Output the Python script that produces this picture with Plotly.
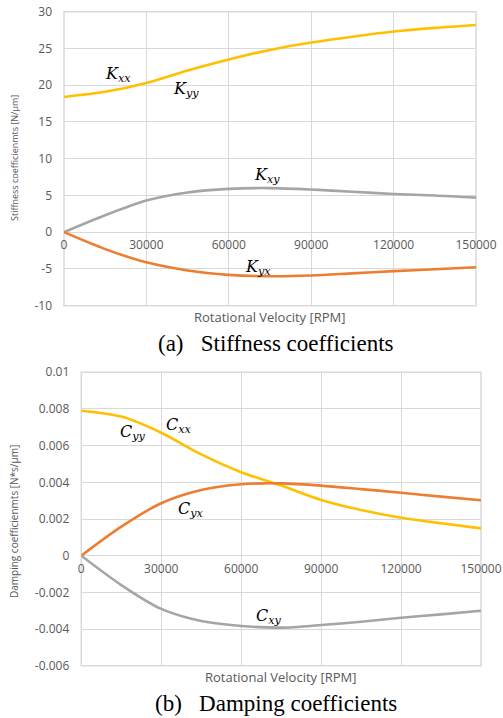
import plotly.graph_objects as go

rpm = [0, 15000, 30000, 45000, 60000, 75000, 90000, 105000, 120000, 135000, 150000]
k_xx = [18.4, 19.1, 20.3, 22.0, 23.5, 24.8, 25.8, 26.6, 27.3, 27.8, 28.2]
k_xy = [0, 2.3, 4.3, 5.4, 5.9, 6.0, 5.8, 5.5, 5.2, 5.0, 4.7]
k_yx = [0, -2.3, -4.1, -5.2, -5.8, -6.0, -5.9, -5.6, -5.3, -5.05, -4.77]

c_xx = [0.0079, 0.00758, 0.0067, 0.00552, 0.00455, 0.00382, 0.00304, 0.00249, 0.00207, 0.00177, 0.00149]
c_yx = [0, 0.00158, 0.00286, 0.00358, 0.00389, 0.00394, 0.00382, 0.00363, 0.00343, 0.00322, 0.00302]
c_xy = [0, -0.0016, -0.0029, -0.00356, -0.00383, -0.00392, -0.00378, -0.0036, -0.00338, -0.0032, -0.0030]

x_ticks = [0, 30000, 60000, 90000, 120000, 150000]
k_ticks = [30, 25, 20, 15, 10, 5, 0, -5, -10]
k_ticktext = ["30", "25", "20", "15", "10", "5", "0", "-5", "-10"]
c_ticks = [0.01, 0.008, 0.006, 0.004, 0.002, 0, -0.002, -0.004, -0.006]
c_ticktext = ["0.01", "0.008", "0.006", "0.004", "0.002", "0", "-0.002", "-0.004", "-0.006"]

YEL = "#FFC000"
ORA = "#ED7D31"
GRY = "#A5A5A5"
TXT = "#595959"
GRID = "#D9D9D9"
FONT = "Open Sans"

fig = go.Figure()
lw = 2.6
def line(color):
    return dict(color=color, width=lw, shape="spline", smoothing=0.8)
fig.add_trace(go.Scatter(x=rpm, y=k_xx, mode="lines", line=line(YEL), xaxis="x", yaxis="y"))
fig.add_trace(go.Scatter(x=rpm, y=k_xy, mode="lines", line=line(GRY), xaxis="x", yaxis="y"))
fig.add_trace(go.Scatter(x=rpm, y=k_yx, mode="lines", line=line(ORA), xaxis="x", yaxis="y"))
fig.add_trace(go.Scatter(x=rpm, y=c_xx, mode="lines", line=line(YEL), xaxis="x2", yaxis="y2"))
fig.add_trace(go.Scatter(x=rpm, y=c_yx, mode="lines", line=line(ORA), xaxis="x2", yaxis="y2"))
fig.add_trace(go.Scatter(x=rpm, y=c_xy, mode="lines", line=line(GRY), xaxis="x2", yaxis="y2"))

H = 718.0
W = 503.0
top_dom_x = [64 / W, 476 / W]
bot_dom_x = [81.3 / W, 481 / W]
top_dom_y = [(H - 305.7) / H, (H - 11.7) / H]
bot_dom_y = [(H - 665.8) / H, (H - 372.2) / H]
top_zero = (H - 231.7) / H
bot_zero = (H - 555.7) / H

tickfont = dict(family=FONT, size=12, color=TXT)
xcommon = dict(range=[0, 150000], tickvals=x_ticks, ticktext=[str(v) for v in x_ticks],
               showgrid=True, gridcolor=GRID, gridwidth=1, zeroline=False, showline=False,
               tickfont=tickfont, ticks="", ticklabelstandoff=4, automargin=False)
ycommon = dict(showgrid=True, gridcolor=GRID, gridwidth=1, zeroline=True, zerolinecolor=GRID,
               zerolinewidth=1, showline=False, tickfont=tickfont, ticks="",
               ticklabelstandoff=11, automargin=False)

fig.update_layout(
    width=503, height=718,
    margin=dict(l=0, r=0, t=0, b=0, autoexpand=False),
    paper_bgcolor="white", plot_bgcolor="white",
    showlegend=False,
    xaxis=dict(domain=top_dom_x, anchor="free", position=top_zero, **xcommon),
    yaxis=dict(domain=top_dom_y, range=[-10, 30], tickvals=k_ticks, ticktext=k_ticktext,
               anchor="x", **ycommon),
    xaxis2=dict(domain=bot_dom_x, anchor="free", position=bot_zero, **xcommon),
    yaxis2=dict(domain=bot_dom_y, range=[-0.006, 0.01], tickvals=c_ticks, ticktext=c_ticktext,
                anchor="x2", **ycommon),
)

shapes = []
for xr, yr in [("x domain", "y domain"), ("x2 domain", "y2 domain")]:
    shapes.append(dict(type="rect", xref=xr, yref=yr, x0=0, x1=1, y0=0, y1=1,
                       line=dict(color=GRID, width=1.5), layer="below"))
fig.update_layout(shapes=shapes)

ann = []
def axis_text(x, y, text, angle=0, size=10):
    ann.append(dict(x=x, y=y, xref="paper", yref="paper", text=text, showarrow=False,
                    textangle=angle, font=dict(family=FONT, size=size, color=TXT),
                    xanchor="center", yanchor="middle"))

axis_text(sum(top_dom_x) / 2, (H - 316.7) / H, "Rotational Velocity [RPM]", size=13)
axis_text(sum(bot_dom_x) / 2, (H - 676.7) / H, "Rotational Velocity [RPM]", size=13)
axis_text(14 / W, (H - 158) / H, "Stiffness coefficienmts [N/μm]", angle=-90, size=9)
axis_text(14 / W, (H - 522) / H, "Damping coefficienmts [N*s/μm]", angle=-90, size=10)

for y, text in [((H - 343) / H, "(a)   Stiffness coefficients"), ((H - 703) / H, "(b)   Damping coefficients")]:
    ann.append(dict(x=276 / W, y=y, xref="paper", yref="paper", text=text, showarrow=False,
                    font=dict(family="Liberation Serif", size=23, color="black"),
                    xanchor="center", yanchor="middle"))

def lab(x, y, sym, sub, xr, yr):
    ann.append(dict(x=x, y=y, xref=xr, yref=yr, showarrow=False,
                    text=f"<i>{sym}</i><sub><i>{sub}</i></sub>",
                    font=dict(family="DejaVu Serif", size=16, color="black"),
                    xanchor="center", yanchor="middle"))

lab(19700, 21.4, "K", "xx", "x", "y")
lab(44400, 19.4, "K", "yy", "x", "y")
lab(73900, 7.7, "K", "xy", "x", "y")
lab(70600, -4.85, "K", "yx", "x", "y")
lab(19400, 0.0067, "C", "yy", "x2", "y2")
lab(36600, 0.0071, "C", "xx", "x2", "y2")
lab(41100, 0.0025, "C", "yx", "x2", "y2")
lab(70400, -0.0033, "C", "xy", "x2", "y2")

fig.update_layout(annotations=ann)
fig.write_html("out.html", config={"displayModeBar": False},
               post_script="document.body.style.margin='0';document.body.style.overflow='hidden';")
